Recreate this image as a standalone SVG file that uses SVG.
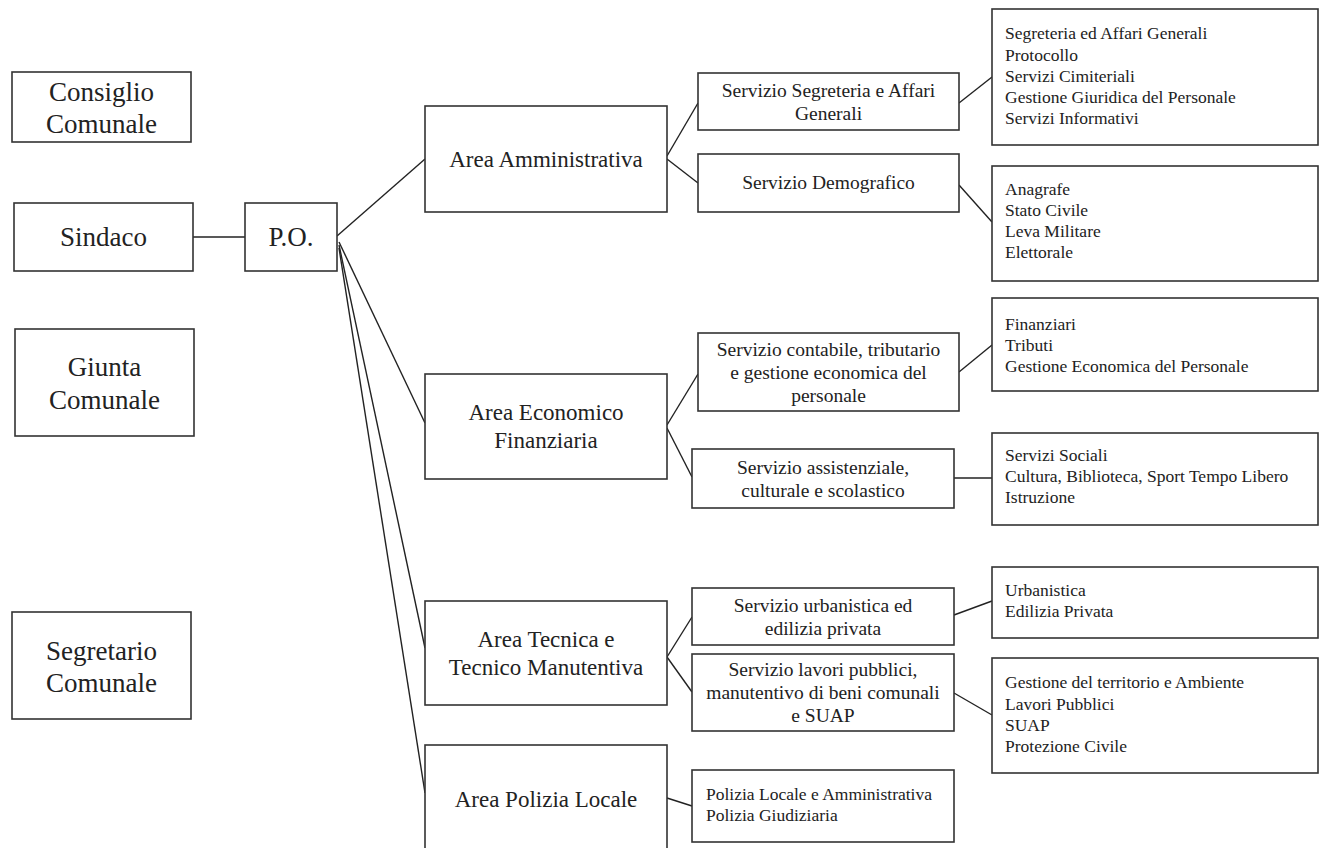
<svg xmlns="http://www.w3.org/2000/svg" width="1320" height="848" viewBox="0 0 1320 848">
<style>
rect{fill:#fff;stroke:#333;stroke-width:1.6}
text{font-family:"Liberation Serif","Times New Roman",serif;fill:#222}
.big{font-size:27px;text-anchor:middle}
.area{font-size:23px;text-anchor:middle}
.srv{font-size:19.5px;text-anchor:middle}
.det{font-size:17.5px}
#connectors line{stroke:#222;stroke-width:1.4}
</style>
<rect x="0" y="0" width="1320" height="848" style="fill:#fff;stroke:none"/>
<g id="connectors">
<line x1="193" y1="237" x2="245" y2="237"/>
<line x1="337" y1="236" x2="425" y2="159"/>
<line x1="339" y1="242" x2="425" y2="423"/>
<line x1="339" y1="245" x2="425" y2="648"/>
<line x1="339" y1="248" x2="425" y2="793"/>
<line x1="667" y1="156" x2="698" y2="103"/>
<line x1="667" y1="159" x2="698" y2="183"/>
<line x1="667" y1="425" x2="698" y2="374"/>
<line x1="667" y1="428" x2="692" y2="477"/>
<line x1="667" y1="657" x2="692" y2="617"/>
<line x1="667" y1="657" x2="692" y2="692"/>
<line x1="667" y1="798" x2="692" y2="806"/>
<line x1="959" y1="103" x2="992" y2="77"/>
<line x1="959" y1="185" x2="992" y2="222"/>
<line x1="959" y1="372" x2="992" y2="345"/>
<line x1="954" y1="478" x2="992" y2="478"/>
<line x1="954" y1="615" x2="992" y2="601"/>
<line x1="954" y1="693" x2="992" y2="715"/>
</g>
<g id="consiglio"><rect x="12" y="72" width="179" height="70"/><text class="big" x="101.5" y="101">Consiglio</text><text class="big" x="101.5" y="133">Comunale</text></g>
<g id="sindaco"><rect x="14" y="203" width="179" height="68"/><text class="big" x="103.5" y="246">Sindaco</text></g>
<g id="po"><rect x="245" y="203" width="92" height="68"/><text class="big" x="291" y="246">P.O.</text></g>
<g id="giunta"><rect x="15" y="329" width="179" height="107"/><text class="big" x="104.5" y="376">Giunta</text><text class="big" x="104.5" y="409">Comunale</text></g>
<g id="segretario"><rect x="12" y="612" width="179" height="107"/><text class="big" x="101.5" y="660">Segretario</text><text class="big" x="101.5" y="692">Comunale</text></g>
<g id="area-amm"><rect x="425" y="106" width="242" height="106"/><text class="area" x="546" y="167">Area Amministrativa</text></g>
<g id="area-eco"><rect x="425" y="374" width="242" height="105"/><text class="area" x="546" y="420">Area Economico</text><text class="area" x="546" y="448">Finanziaria</text></g>
<g id="area-tec"><rect x="425" y="601" width="242" height="104"/><text class="area" x="546" y="647">Area Tecnica e</text><text class="area" x="546" y="675">Tecnico Manutentiva</text></g>
<g id="area-pol"><rect x="425" y="745" width="242" height="120"/><text class="area" x="546" y="807">Area Polizia Locale</text></g>
<g id="srv-segr"><rect x="698" y="73" width="261" height="57"/><text class="srv" x="828.5" y="97">Servizio Segreteria e Affari</text><text class="srv" x="828.5" y="120">Generali</text></g>
<g id="srv-demo"><rect x="698" y="154" width="261" height="58"/><text class="srv" x="828.5" y="189">Servizio Demografico</text></g>
<g id="srv-cont"><rect x="698" y="333" width="261" height="78"/><text class="srv" x="828.5" y="356">Servizio contabile, tributario</text><text class="srv" x="828.5" y="379">e gestione economica del</text><text class="srv" x="828.5" y="402">personale</text></g>
<g id="srv-ass"><rect x="692" y="449" width="262" height="59"/><text class="srv" x="823" y="474">Servizio assistenziale,</text><text class="srv" x="823" y="497">culturale e scolastico</text></g>
<g id="srv-urb"><rect x="692" y="588" width="262" height="57"/><text class="srv" x="823" y="612">Servizio urbanistica ed</text><text class="srv" x="823" y="635">edilizia privata</text></g>
<g id="srv-lav"><rect x="692" y="654" width="262" height="77"/><text class="srv" x="823" y="676">Servizio lavori pubblici,</text><text class="srv" x="823" y="699">manutentivo di beni comunali</text><text class="srv" x="823" y="722">e SUAP</text></g>
<g id="srv-pol"><rect x="692" y="770" width="262" height="72"/><text class="det" x="706" y="800">Polizia Locale e Amministrativa</text><text class="det" x="706" y="821">Polizia Giudiziaria</text></g>
<g id="det-segr"><rect x="992" y="9" width="326" height="136"/><text class="det" x="1005" y="39">Segreteria ed Affari Generali</text><text class="det" x="1005" y="61">Protocollo</text><text class="det" x="1005" y="82">Servizi Cimiteriali</text><text class="det" x="1005" y="103">Gestione Giuridica del Personale</text><text class="det" x="1005" y="124">Servizi Informativi</text></g>
<g id="det-demo"><rect x="992" y="166" width="326" height="115"/><text class="det" x="1005" y="195">Anagrafe</text><text class="det" x="1005" y="216">Stato Civile</text><text class="det" x="1005" y="237">Leva Militare</text><text class="det" x="1005" y="258">Elettorale</text></g>
<g id="det-fin"><rect x="992" y="298" width="326" height="93"/><text class="det" x="1005" y="330">Finanziari</text><text class="det" x="1005" y="351">Tributi</text><text class="det" x="1005" y="372">Gestione Economica del Personale</text></g>
<g id="det-soc"><rect x="992" y="433" width="326" height="92"/><text class="det" x="1005" y="461">Servizi Sociali</text><text class="det" x="1005" y="482">Cultura, Biblioteca, Sport Tempo Libero</text><text class="det" x="1005" y="503">Istruzione</text></g>
<g id="det-urb"><rect x="992" y="567" width="326" height="71"/><text class="det" x="1005" y="596">Urbanistica</text><text class="det" x="1005" y="617">Edilizia Privata</text></g>
<g id="det-lav"><rect x="992" y="658" width="326" height="115"/><text class="det" x="1005" y="688">Gestione del territorio e Ambiente</text><text class="det" x="1005" y="710">Lavori Pubblici</text><text class="det" x="1005" y="731">SUAP</text><text class="det" x="1005" y="752">Protezione Civile</text></g>
</svg>
